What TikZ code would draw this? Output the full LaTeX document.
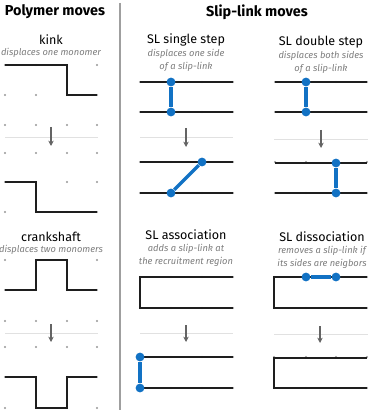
\documentclass[tikz,border=0pt]{standalone}
\usepackage{fontspec}
\setmainfont{Fira Sans}
\usetikzlibrary{arrows.meta}
\definecolor{slblue}{RGB}{18,114,196}
\definecolor{chain}{RGB}{30,30,30}
\definecolor{sepc}{RGB}{225,225,225}
\definecolor{dotc}{RGB}{150,150,150}
\definecolor{arrc}{RGB}{100,100,100}
\definecolor{subc}{RGB}{125,125,125}
\tikzset{
  chainline/.style={draw=chain, line width=1.1pt, line join=miter},
  slink/.style={draw=slblue, line width=2.4pt},
  sldot/.style={fill=slblue, circle, inner sep=0pt, minimum size=6.6pt},
  sepline/.style={draw=sepc, line width=0.7pt},
  movearrow/.style={draw=arrc, line width=0.8pt, -{Stealth[length=4pt,width=4pt]}},
  divider/.style={draw=gray!75, line width=0.8pt},
  heading/.style={font=\fontsize{10.8}{13}\selectfont\bfseries, inner sep=0pt},
  movename/.style={font=\fontsize{9.4}{12}\selectfont, inner sep=0pt},
  movedesc/.style={font=\fontsize{7}{9.6}\selectfont\itshape, text=subc, inner sep=0pt, align=center},
}
\begin{document}
\begin{tikzpicture}[x=0.75pt, y=-0.75pt]
\useasboundingbox (0,0) rectangle (382,413);

% divider
\coordinate (dtop) at (120,3);
\coordinate (dbot) at (120,410);
\draw[divider] (dtop) -- (dbot);

% headings
\node[heading] (h1) at (55,12) {Polymer moves};
\node[heading] (h2) at (257,12) {Slip-link moves};

% ---------- left: kink ----------
\node[movename] (kinkn) at (51,40) {kink};
\node[movedesc] (kinkd) at (51,53) {displaces one monomer};
\foreach \yy in {65,95,125,153,182,212,260,290,321,347,377,408}
  \foreach \xx in {5,36,67,97}
    \fill[dotc] (\xx,\yy) circle (1.15);
\coordinate (k1) at (5,65); \coordinate (k2) at (67,65); \coordinate (k3) at (67,95); \coordinate (k4) at (97,95);
\draw[chainline] (k1) -- (k2) -- (k3) -- (k4);
\coordinate (ks1) at (5,137); \coordinate (ks2) at (98,137);
\draw[sepline] (ks1) -- (ks2);
\coordinate (ka1) at (51,127); \coordinate (ka2) at (51,146);
\draw[movearrow] (ka1) -- (ka2);
\coordinate (k5) at (5,182); \coordinate (k6) at (36,182); \coordinate (k7) at (36,212); \coordinate (k8) at (97,212);
\draw[chainline] (k5) -- (k6) -- (k7) -- (k8);

% ---------- left: crankshaft ----------
\node[movename] (crn) at (51,237) {crankshaft};
\node[movedesc] (crd) at (51,250) {displaces two monomers};
\coordinate (c1) at (5,290); \coordinate (c2) at (36,290); \coordinate (c3) at (36,260);
\coordinate (c4) at (67,260); \coordinate (c5) at (67,290); \coordinate (c6) at (97,290);
\draw[chainline] (c1) -- (c2) -- (c3) -- (c4) -- (c5) -- (c6);
\coordinate (cs1) at (5,333); \coordinate (cs2) at (98,333);
\draw[sepline] (cs1) -- (cs2);
\coordinate (ca1) at (51,324); \coordinate (ca2) at (51,342);
\draw[movearrow] (ca1) -- (ca2);
\coordinate (d1) at (5,377); \coordinate (d2) at (36,377); \coordinate (d3) at (36,408);
\coordinate (d4) at (67,408); \coordinate (d5) at (67,377); \coordinate (d6) at (97,377);
\draw[chainline] (d1) -- (d2) -- (d3) -- (d4) -- (d5) -- (d6);

% ---------- right: tick dots ----------
\foreach \yy in {82,112,162,193}
  \foreach \xx in {140,171,202,233}
    \fill[dotc] (\xx,\yy) circle (1.15);
\foreach \yy in {82,112,162,193}
  \foreach \xx in {275,306,336,367}
    \fill[dotc] (\xx,\yy) circle (1.15);
\foreach \yy in {277,308,357,388}
  \foreach \xx in {140,171,202,233}
    \fill[dotc] (\xx,\yy) circle (1.15);
\foreach \yy in {277,308,357,388}
  \foreach \xx in {274,306,336,367}
    \fill[dotc] (\xx,\yy) circle (1.15);

% ---------- right: SL single step ----------
\node[movename] (ssn) at (186,40) {SL single step};
\node[movedesc] (ssd) at (186,60.5) {displaces one side\\of a slip-link};
\coordinate (s1a) at (140,82); \coordinate (s1b) at (233,82);
\coordinate (s2a) at (140,112); \coordinate (s2b) at (233,112);
\draw[chainline] (s1a) -- (s1b);
\draw[chainline] (s2a) -- (s2b);
\node[sldot] (sA) at (171,82) {};
\node[sldot] (sB) at (171,112) {};
\draw[slink] (sA) -- (sB);
\coordinate (ss1) at (140,137); \coordinate (ss2) at (233,137);
\draw[sepline] (ss1) -- (ss2);
\coordinate (sa1) at (186,128); \coordinate (sa2) at (186,147);
\draw[movearrow] (sa1) -- (sa2);
\coordinate (s3a) at (140,162); \coordinate (s3b) at (233,162);
\coordinate (s4a) at (140,193); \coordinate (s4b) at (233,193);
\draw[chainline] (s3a) -- (s3b);
\draw[chainline] (s4a) -- (s4b);
\node[sldot] (sC) at (202,162) {};
\node[sldot] (sD) at (171,193) {};
\draw[slink] (sD) -- (sC);

% ---------- right: SL double step ----------
\node[movename] (dsn) at (321,42) {SL double step};
\node[movedesc] (dsd) at (321,62.5) {displaces both sides\\of a slip-link};
\coordinate (t1a) at (275,82); \coordinate (t1b) at (367,82);
\coordinate (t2a) at (275,112); \coordinate (t2b) at (367,112);
\draw[chainline] (t1a) -- (t1b);
\draw[chainline] (t2a) -- (t2b);
\node[sldot] (tA) at (306,82) {};
\node[sldot] (tB) at (306,112) {};
\draw[slink] (tA) -- (tB);
\coordinate (ts1) at (274,139); \coordinate (ts2) at (368,139);
\draw[sepline] (ts1) -- (ts2);
\coordinate (ta1) at (321,130); \coordinate (ta2) at (321,148);
\draw[movearrow] (ta1) -- (ta2);
\coordinate (t3a) at (275,163); \coordinate (t3b) at (367,163);
\coordinate (t4a) at (275,193); \coordinate (t4b) at (367,193);
\draw[chainline] (t3a) -- (t3b);
\draw[chainline] (t4a) -- (t4b);
\node[sldot] (tC) at (336,163) {};
\node[sldot] (tD) at (336,193) {};
\draw[slink] (tC) -- (tD);

% ---------- right: SL association ----------
\node[movename] (asn) at (186,235) {SL association};
\node[movedesc] (asd) at (186,255.5) {adds a slip-link at\\the recruitment region};
\coordinate (a1) at (233,277); \coordinate (a2) at (140,277); \coordinate (a3) at (140,308); \coordinate (a4) at (233,308);
\draw[chainline] (a1) -- (a2) -- (a3) -- (a4);
\coordinate (as1) at (140,333); \coordinate (as2) at (233,333);
\draw[sepline] (as1) -- (as2);
\coordinate (aa1) at (186,325); \coordinate (aa2) at (186,342);
\draw[movearrow] (aa1) -- (aa2);
\coordinate (b1) at (233,357); \coordinate (b2) at (140,357); \coordinate (b3) at (140,388); \coordinate (b4) at (233,388);
\draw[chainline] (b2) -- (b1);
\draw[chainline] (b3) -- (b4);
\node[sldot] (aA) at (140,357) {};
\node[sldot] (aB) at (140,388) {};
\draw[slink] (aA) -- (aB);

% ---------- right: SL dissociation ----------
\node[movename] (dn) at (322,237) {SL dissociation};
\node[movedesc] (dd) at (322,257.5) {removes a slip-link if\\its sides are neigbors};
\coordinate (e1) at (367,277); \coordinate (e2) at (274,277); \coordinate (e3) at (274,308); \coordinate (e4) at (367,308);
\draw[chainline] (e1) -- (e2) -- (e3) -- (e4);
\node[sldot] (eA) at (306,277) {};
\node[sldot] (eB) at (336,277) {};
\draw[slink] (eA) -- (eB);
\coordinate (es1) at (274,334); \coordinate (es2) at (368,334);
\draw[sepline] (es1) -- (es2);
\coordinate (ea1) at (320,326); \coordinate (ea2) at (320,343);
\draw[movearrow] (ea1) -- (ea2);
\coordinate (f1) at (367,358); \coordinate (f2) at (274,358); \coordinate (f3) at (274,388); \coordinate (f4) at (367,388);
\draw[chainline] (f1) -- (f2) -- (f3) -- (f4);
\end{tikzpicture}
\end{document}
